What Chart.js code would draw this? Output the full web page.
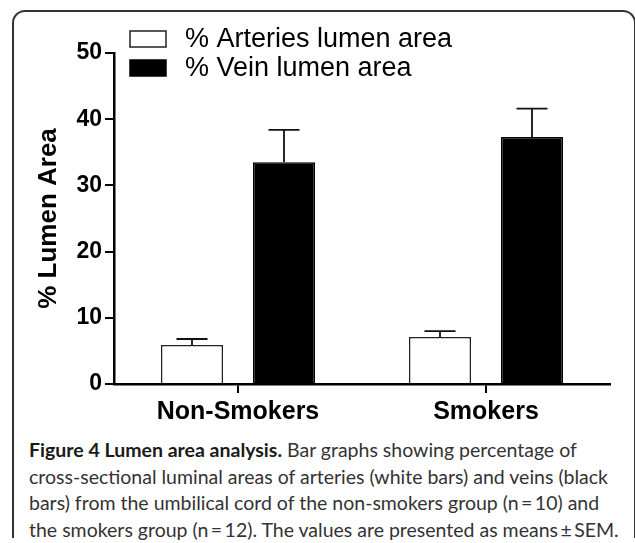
<!DOCTYPE html>
<html>
<head>
<meta charset="utf-8">
<script src="https://cdn.jsdelivr.net/npm/chart.js@4.4.0/dist/chart.umd.min.js"></script>
<style>
  html, body { margin: 0; padding: 0; background: #fff; }
  body { width: 635px; height: 543px; position: relative; overflow: hidden; }
  .frame {
    position: absolute; left: 12px; top: 10px; width: 624px; height: 528px;
    border: 2px solid #333; border-bottom: none; border-radius: 13px 13px 0 0;
    box-sizing: border-box;
  }
  .wrap { position: absolute; left: 0; top: 0; width: 635px; height: 435px; }
  .caption {
    position: absolute; left: 29px; top: 437px; width: 600px;
    font-family: Lato, "Open Sans", sans-serif; font-size: 19.5px; line-height: 26.5px;
    color: #333;
  }
  .caption div { white-space: nowrap; }
  .caption b { font-weight: 700; color: #1a1a1a; }
</style>
</head>
<body>
<div class="frame"></div>
<div class="wrap"><canvas id="myChart" width="635" height="435"></canvas></div>
<div class="caption">
  <div><b>Figure 4 Lumen area analysis.</b> Bar graphs showing percentage of</div>
  <div>cross-sectional luminal areas of arteries (white bars) and veins (black</div>
  <div>bars) from the umbilical cord of the non-smokers group (n&#8201;=&#8201;10) and</div>
  <div>the smokers group (n&#8201;=&#8201;12). The values are presented as means&#8201;±&#8201;SEM.</div>
</div>
<script>
const groups = ['Non-Smokers', 'Smokers'];
const arteryMean = [5.9, 7.1];
const arterySem = [0.9, 0.9];
const veinMean = [33.5, 37.3];
const veinSem = [4.9, 4.3];
const yTicks = [0, 10, 20, 30, 40, 50];

const fontFamily = '"Liberation Sans", Arial, Helvetica, sans-serif';

// error bars (upper half only, like the original)
const errorBars = {
    id: 'errorBars',
    afterDatasetsDraw(chart) {
        const c = chart.ctx;
        const y = chart.scales.y;
        c.save();
        c.strokeStyle = '#111';
        c.lineWidth = 1.8;
        chart.data.datasets.forEach((ds, i) => {
            chart.getDatasetMeta(i).data.forEach((bar, j) => {
                const top = y.getPixelForValue(ds.data[j] + ds.sem[j]);
                const half = bar.width / 4;
                c.beginPath();
                c.moveTo(bar.x, bar.y);
                c.lineTo(bar.x, top);
                c.moveTo(bar.x - half, top);
                c.lineTo(bar.x + half, top);
                c.stroke();
            });
        });
        c.restore();
    }
};

// stacked legend in the top left corner
const cornerLegend = {
    id: 'cornerLegend',
    afterDraw(chart) {
        const c = chart.ctx;
        c.save();
        c.font = '27px ' + fontFamily;
        c.textBaseline = 'middle';
        chart.data.datasets.forEach((ds, i) => {
            const top = 31 + i * 29;
            c.fillStyle = ds.backgroundColor;
            c.fillRect(130, top, 36, 16);
            c.lineWidth = 1.5;
            c.strokeStyle = ds.borderColor;
            c.strokeRect(130, top, 36, 16);
            c.fillStyle = '#000';
            c.fillText(ds.label, 185, top + 9);
        });
        c.restore();
    }
};

const ctx = document.getElementById('myChart').getContext('2d');
const chart = new Chart(ctx, {
    type: 'bar',
    data: {
        labels: groups,
        datasets: [
            {
                label: '% Arteries lumen area',
                data: arteryMean,
                sem: arterySem,
                backgroundColor: '#ffffff',
                borderColor: '#222',
                borderWidth: 1.5
            },
            {
                label: '% Vein lumen area',
                data: veinMean,
                sem: veinSem,
                backgroundColor: '#000000',
                borderColor: '#000',
                borderWidth: 1.5
            }
        ]
    },
    options: {
        responsive: false,
        animation: false,
        events: [],
        layout: { padding: { left: 0, top: 53, right: 25, bottom: 0 } },
        datasets: { bar: { categoryPercentage: 0.742, barPercentage: 0.674 } },
        plugins: {
            legend: { display: false },
            tooltip: { enabled: false }
        },
        scales: {
            x: {
                grid: { drawOnChartArea: false, offset: false, tickLength: 9, lineWidth: 2, color: '#000' },
                border: { color: '#000', width: 2.5 },
                ticks: { color: '#000', padding: 4, font: { family: fontFamily, size: 25, weight: 'bold' } },
                afterFit: s => { s.height = 51; }
            },
            y: {
                min: 0,
                max: 50,
                afterBuildTicks: s => { s.ticks = yTicks.map(v => ({ value: v })); },
                grid: { drawOnChartArea: false, tickLength: 9, lineWidth: 2, color: '#000' },
                border: { color: '#000', width: 2.5 },
                ticks: { color: '#000', padding: 3, font: { family: fontFamily, size: 23, weight: 'bold' } },
                title: {
                    display: true,
                    text: '% Lumen Area',
                    color: '#000',
                    padding: { top: 33, bottom: 0 },
                    font: { family: fontFamily, size: 26, weight: 'bold' }
                },
                afterFit: s => { s.width = 114; }
            }
        }
    },
    plugins: [errorBars, cornerLegend]
});
</script>
</body>
</html>
